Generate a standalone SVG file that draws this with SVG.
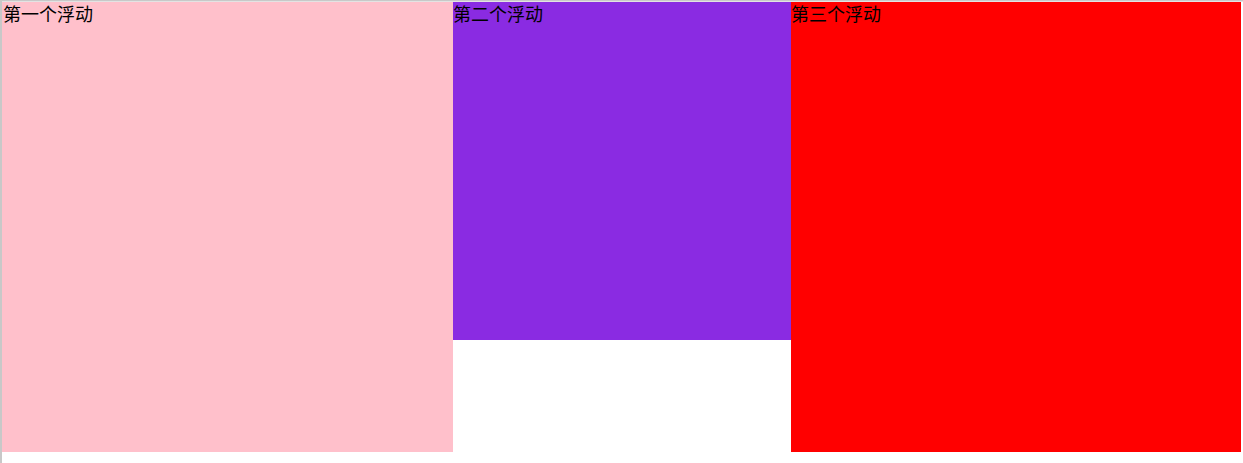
<svg xmlns="http://www.w3.org/2000/svg" width="1243" height="463" viewBox="0 0 1243 463">
<style>
text{font-family:"Microsoft YaHei","Noto Sans CJK SC","Noto Sans CJK JP",sans-serif;font-size:18px;fill:#000}
</style>
<rect x="0" y="0" width="1243" height="463" fill="#fff"/>
<rect x="0" y="0" width="2" height="463" fill="#c8c8c8"/>
<rect x="0" y="0" width="1243" height="1.5" fill="#c8c8c8"/>
<g id="box1"><rect x="2" y="2" width="451" height="450" fill="#ffc0cb"/><text x="3" y="21">第一个浮动</text></g>
<g id="box2"><rect x="453" y="2" width="338" height="338" fill="#8a2be2"/><text x="453" y="21">第二个浮动</text></g>
<g id="box3"><rect x="791" y="2" width="450" height="450" fill="#ff0000"/><text x="791" y="21">第三个浮动</text></g>
<g id="connectors"/>
</svg>
